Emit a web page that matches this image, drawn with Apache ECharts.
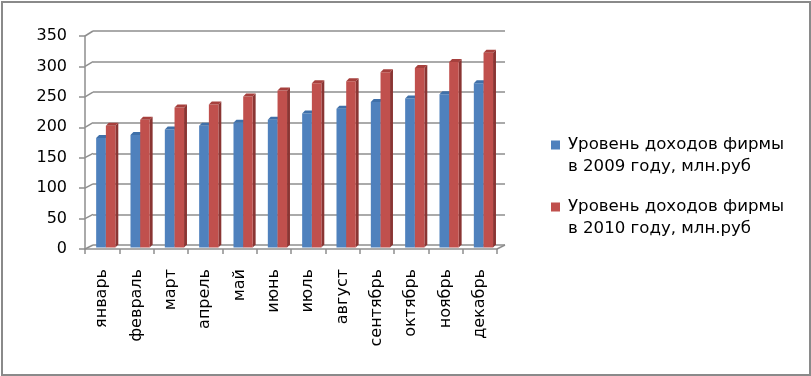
<!DOCTYPE html>
<html><head><meta charset="utf-8">
<script src="https://cdn.jsdelivr.net/npm/echarts@6/dist/echarts.min.js"></script>
<style>
html,body{margin:0;padding:0;background:#fff;}
#frame{position:absolute;left:1px;top:1px;width:810px;height:375px;border:2px solid #8a8a8a;box-sizing:border-box;}
#chart{position:absolute;left:0;top:0;width:811px;height:376px;}
</style></head>
<body><div id="frame"></div><div id="chart"></div>
<script>
const categories = ['январь','февраль','март','апрель','май','июнь','июль','август','сентябрь','октябрь','ноябрь','декабрь'];
const income2009 = [180, 185, 194, 200, 205, 210, 220, 228, 239, 245, 252, 270];
const income2010 = [200, 210, 230, 235, 248, 258, 270, 273, 288, 295, 305, 320];
const seriesNames = ['Уровень доходов фирмы\nв 2009 году, млн.руб', 'Уровень доходов фирмы\nв 2010 году, млн.руб'];
const yMin = 0, yMax = 350, yInterval = 50;
const yTickValues = [0, 50, 100, 150, 200, 250, 300, 350];

const FONT = 'DejaVu Sans';
const GRID = '#8e8e8e';
const faces = [
  {front:'#4F81BD', side:'#3B6496', top:'#3F70A9'},
  {front:'#C0504D', side:'#8A3533', top:'#A6403D'}
];

function barRender(k){
  return function(params, api){
    const i = api.value(0), v = api.value(1);
    const top = api.coord([i, v]);
    const base = api.coord([i, 0]);
    const w = api.size([1, 0])[0];
    const x1 = top[0] + (k === 0 ? -0.175 : 0.108) * w;
    const x2 = top[0] + (k === 0 ? 0.108 : 0.385) * w;
    const d = 0.085 * w, dy = 3;
    const yt = top[1] - 1.5, yb = base[1] - 1.5;
    const f = faces[k];
    return {type:'group', children:[
      {type:'polygon', shape:{points:[[x2,yb],[x2,yt],[x2+d,yt-dy],[x2+d,yb-dy]]}, style:{fill:f.side}},
      {type:'rect', shape:{x:x1, y:yt, width:x2-x1, height:yb-yt}, style:{fill:f.front}},
      {type:'polygon', shape:{points:[[x1,yt],[x1+d,yt-dy],[x2+d,yt-dy],[x2,yt]]}, style:{fill:f.top}}
    ]};
  };
}

function diagRender(params, api){
  const v = api.value(1);
  const cs = params.coordSys;
  const y = api.coord([0, v])[1];
  const dy = -4 - v / yMax;
  const children = [{type:'line', shape:{x1:cs.x, y1:y, x2:cs.x+8, y2:y+dy}, style:{stroke:GRID, lineWidth:1.5}}];
  if (v === 0) {
    const xr = cs.x + cs.width;
    children.push({type:'line', shape:{x1:xr, y1:y, x2:xr+8, y2:y+dy}, style:{stroke:GRID, lineWidth:1.5}});
  }
  return {type:'group', children};
}

const chart = echarts.init(document.getElementById('chart'));
chart.setOption({
  animation:false,
  grid:[
    {left:85, right:314, top:36, bottom:127},
    {left:93, right:306, top:31, bottom:131}
  ],
  xAxis:[
    {type:'category', gridIndex:0, data:categories, boundaryGap:true,
     axisLine:{lineStyle:{color:GRID, width:1.5}},
     axisTick:{show:true, length:5, lineStyle:{color:GRID, width:1.5}},
     axisLabel:{rotate:90, margin:20, interval:0, color:'#000', fontSize:16, fontFamily:FONT}},
    {type:'category', gridIndex:1, data:categories, show:false}
  ],
  yAxis:[
    {type:'value', gridIndex:0, min:yMin, max:yMax, interval:yInterval,
     axisLine:{show:true, lineStyle:{color:GRID, width:1.5}},
     axisTick:{show:true, length:6, lineStyle:{color:GRID, width:1.5}},
     splitLine:{show:false},
     axisLabel:{margin:18, color:'#000', fontSize:16, fontFamily:FONT}},
    {type:'value', gridIndex:1, min:yMin, max:yMax, interval:yInterval,
     axisLine:{show:false}, axisTick:{show:false}, axisLabel:{show:false},
     splitLine:{show:true, lineStyle:{color:GRID, width:1.5}}}
  ],
  legend:{
    orient:'vertical', left:551, top:134, itemGap:18, padding:0,
    itemWidth:12, itemHeight:31,
    icon:'path://M0,0H9V9H0Z M11.99,30.99H12V31H11.99Z',
    textStyle:{color:'#000', fontSize:16.6, fontFamily:FONT, lineHeight:22},
    data:seriesNames
  },
  series:[
    {type:'custom', name:'diag', xAxisIndex:0, yAxisIndex:0, renderItem:diagRender,
     data:yTickValues.map(v => [0, v]), silent:true, z:1},
    {type:'custom', name:seriesNames[0], xAxisIndex:0, yAxisIndex:0, renderItem:barRender(0),
     itemStyle:{color:faces[0].front}, data:income2009.map((v,i) => [i, v]), z:3},
    {type:'custom', name:seriesNames[1], xAxisIndex:0, yAxisIndex:0, renderItem:barRender(1),
     itemStyle:{color:faces[1].front}, data:income2010.map((v,i) => [i, v]), z:3}
  ]
});
</script>
</body></html>
